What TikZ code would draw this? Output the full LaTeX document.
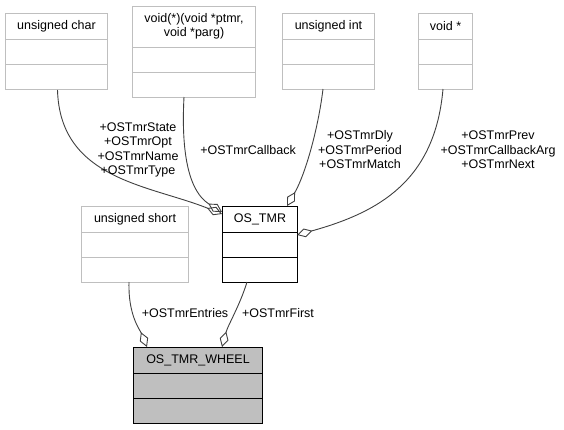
\documentclass[tikz,border=0pt]{standalone}
\usepackage{fontspec}
\setmainfont{Liberation Sans}
\usetikzlibrary{arrows.meta,calc}
\definecolor{edgegray}{HTML}{404040}
\definecolor{boxgray}{HTML}{BFBFBF}
\newcommand\umlbox[7]{%
  % #1 style, #2 name, #3 left, #4 top, #5 width, #6 header height, #7 text
  \node[#1, anchor=north west, minimum width=#5pt, minimum height=#6pt+50pt, inner sep=0pt] (#2) at (#3,#4) {};
  \draw[#1] ([yshift=-#6pt]#2.north west) -- ([yshift=-#6pt]#2.north east);
  \draw[#1] ([yshift=-#6pt-25pt]#2.north west) -- ([yshift=-#6pt-25pt]#2.north east);
  \node[lbl, align=center] (#2-t) at ([yshift=-#6pt/2]#2.north) {#7};
}
\tikzset{
  lbl/.style={inner sep=0pt, font=\fontsize{12.5}{14.5}\selectfont, align=center},
  extcls/.style={draw=boxgray, fill=white, line width=1pt},
  maincls/.style={draw=black, fill=white, line width=1pt},
  selcls/.style={draw=black, fill=boxgray, line width=1pt},
  assoc/.style={draw=edgegray, line width=0.9pt, -{Diamond[open, length=16pt, width=9pt]}},
}
\begin{document}
\begin{tikzpicture}[x=1pt, y=-1pt]
\useasboundingbox (0,0) rectangle (564,429);
\umlbox{extcls}{uc}{5}{13}{102}{26}{unsigned char}
\umlbox{extcls}{vf}{132}{6}{123}{41}{void(*)(void *ptmr,\\ void *parg)}
\umlbox{extcls}{ui}{282}{13}{92}{26}{unsigned int}
\umlbox{extcls}{vp}{418}{13}{54}{26}{void *}
\umlbox{extcls}{us}{81}{206}{107}{26}{unsigned short}
\umlbox{maincls}{tmr}{222}{206}{75}{26}{OS\_TMR}
\umlbox{selcls}{wh}{133}{347}{129}{26}{OS\_TMR\_WHEEL}

\coordinate (tmrL1) at (222,212);
\coordinate (tmrL2) at (222,214);
\coordinate (tmrT) at (287,206);
\coordinate (tmrR) at (297,235);
\coordinate (whL) at (147,347);
\coordinate (whR) at (222,347);

\draw[assoc] (uc.south) ++(1,0) .. controls (60,180) and (150,185) .. (tmrL2);
\draw[assoc] (184,97) .. controls (180,172) and (196,196) .. (tmrL1);
\draw[assoc] (323,89) .. controls (318,130) and (305,175) .. (tmrT);
\draw[assoc] (443,89) .. controls (435,180) and (380,212) .. (tmrR);
\draw[assoc] (129,282) .. controls (128,315) and (140,330) .. (whL);
\draw[assoc] (247,282) .. controls (240,305) and (228,325) .. (whR);

\node[lbl] (l1) at (138,150) {+OSTmrState\\+OSTmrOpt\\+OSTmrName\\+OSTmrType};
\node[lbl] (l2) at (248,150) {+OSTmrCallback};
\node[lbl] (l3) at (360,150) {+OSTmrDly\\+OSTmrPeriod\\+OSTmrMatch};
\node[lbl] (l4) at (498,150) {+OSTmrPrev\\+OSTmrCallbackArg\\+OSTmrNext};
\node[lbl] (l5) at (185,313) {+OSTmrEntries};
\node[lbl] (l6) at (278,313) {+OSTmrFirst};
\end{tikzpicture}
\end{document}
